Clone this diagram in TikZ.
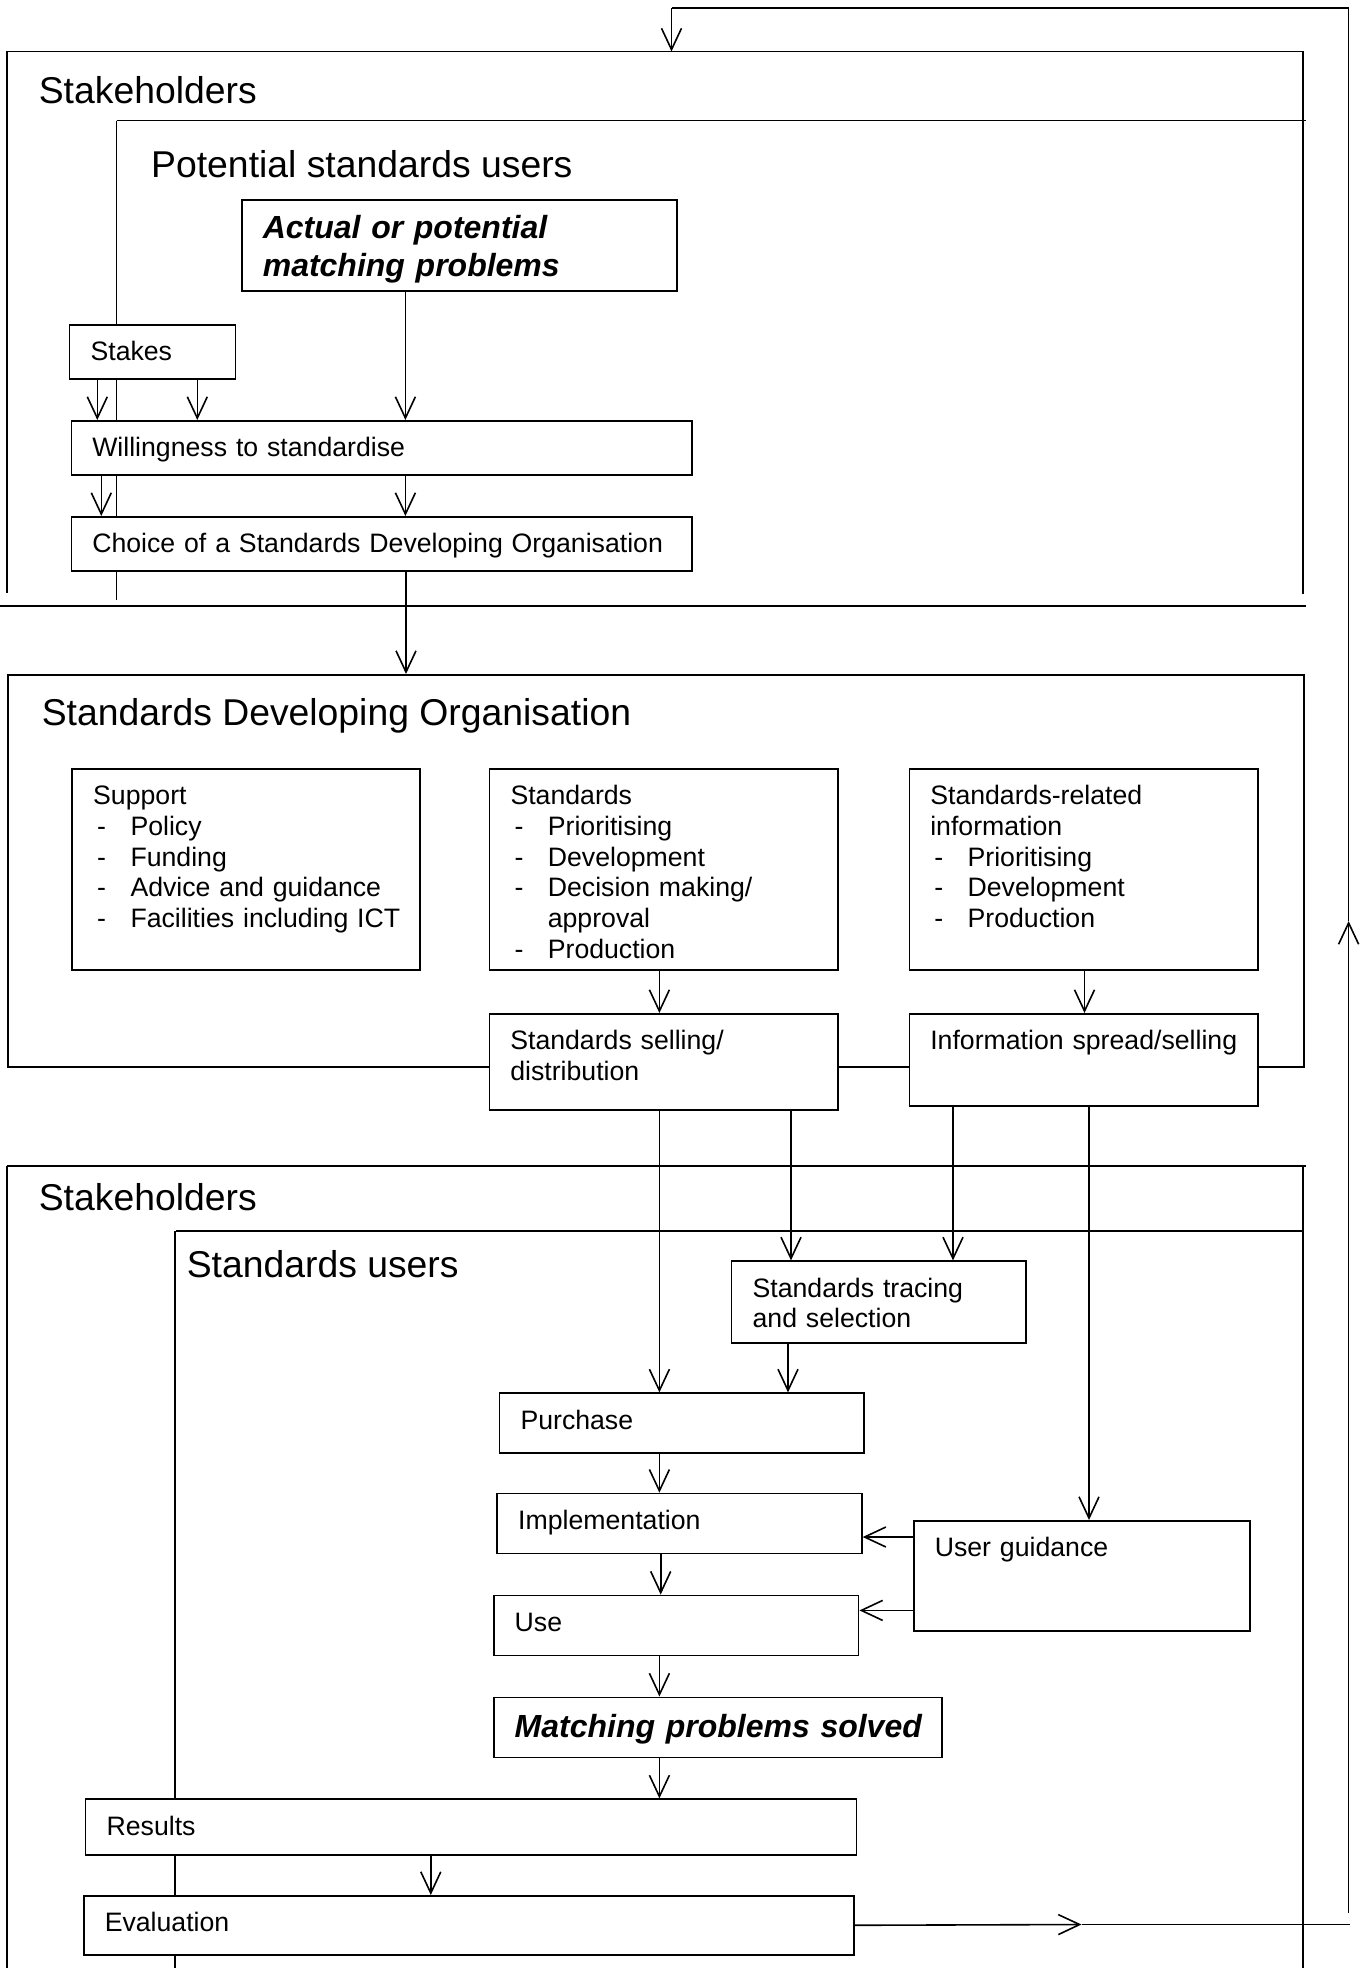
\documentclass[tikz,border=0pt]{standalone}
\usepackage{fontspec}
\setmainfont{Liberation Sans}
\usetikzlibrary{arrows.meta}

\newcommand\boxfont{\fontsize{10}{11.5}\selectfont}
\newcommand\headfont{\fontsize{14}{16.8}\selectfont}
\newcommand\keyfont{\fontsize{12}{14}\selectfont\bfseries\itshape}
\newcommand\dashitem[1]{\mbox{\hspace*{1.5pt}\makebox[12.5pt][l]{-}#1}}

\begin{document}
\begin{tikzpicture}[x=0.375pt, y=-0.375pt, line width=0.6pt,
    box/.style={draw, fill=white, anchor=north west, align=left,
        inner xsep=7.875pt, inner ysep=0pt, text height=13.5pt, font=\boxfont},
    keybox/.style={box, font=\keyfont},
    head/.style={anchor=base west, inner sep=0pt, font=\headfont},
    arr/.style={-{Straight Barb[length=8pt,width=7.5pt]}}]

    \useasboundingbox (0,0) rectangle (1366,1968);

    % stakeholders (top) and potential users
    \draw (6.7,51.5) -- (1304,51.5);
    \draw (6.7,51.5) -- (6.7,593);
    \draw (1303,51.5) -- (1303,594);
    \draw (0,606) -- (1306,606);
    \draw (116.5,120.6) -- (1306,120.6);
    \draw (116.5,120.6) -- (116.5,600);
    \node[head] (stakeT) at (38,103.6) {Stakeholders};
    \node[head] (potT) at (150.4,178) {Potential standards users};

    \node[keybox, text width=147.4pt, text height=14.6pt, text depth=19.5pt]
        (problems) at (241,199) {Actual or potential\\matching problems};
    \node[box, text width=46.5pt, text depth=6.75pt] (stakes) at (68.75,324) {Stakes};
    \node[box, text width=217.1pt, text depth=6.75pt] (will) at (70.5,420)
        {Willingness to standardise};
    \node[box, text width=217.1pt, text depth=6.75pt] (choice) at (70.5,516)
        {\mbox{Choice of a Standards Developing Organisation}};

    % standards developing organisation
    \node[draw, anchor=north west, inner sep=0pt, minimum width=486pt,
        minimum height=147pt] (sdo) at (7,674) {};
    \node[head] (sdoT) at (41,725.5) {Standards Developing Organisation};

    \node[box, text width=114.6pt, text depth=61.9pt] (support) at (71.4,768)
        {Support\\ \dashitem{Policy}\\ \dashitem{Funding}\\
         \dashitem{Advice and guidance}\\ \dashitem{Facilities including ICT}};
    \node[box, text width=114.9pt, text depth=61.9pt] (stds) at (488.7,768)
        {Standards\\ \dashitem{Prioritising}\\ \dashitem{Development}\\
         \dashitem{Decision making/}\\ \hspace*{14pt}approval\\ \dashitem{Production}};
    \node[box, text width=115pt, text depth=61.9pt] (info) at (908.5,768)
        {Standards-related\\ information\\ \dashitem{Prioritising}\\
         \dashitem{Development}\\ \dashitem{Production}};
    \node[box, text width=115pt, text depth=22.5pt] (selling) at (488.5,1013)
        {Standards selling/\\ distribution};
    \node[box, text width=115pt, text depth=21pt] (spread) at (908.5,1013)
        {\mbox{Information spread/selling}};

    % stakeholders (bottom) and standards users
    \draw (6.7,1166) -- (1306,1166);
    \draw (6.7,1166) -- (6.7,1968);
    \draw (1303,1166) -- (1303,1968);
    \draw (176,1231) -- (1303,1231);
    \draw (175,1231) -- (175,1968);
    \node[head] (stake2T) at (38,1210) {Stakeholders};
    \node[head] (usersT) at (186,1277) {Standards users};

    \node[box, text width=94.6pt, text depth=17.25pt] (tracing) at (730.8,1260.4)
        {Standards tracing\\ and selection};
    \node[box, text width=120.9pt, text depth=9pt] (purchase) at (498.7,1392.4) {Purchase};
    \node[box, text width=121pt, text depth=9pt] (impl) at (496.4,1492.7) {Implementation};
    \node[box, text width=121.1pt, text depth=9pt] (use) at (492.9,1594.6) {Use};
    \node[keybox, text width=152.4pt, text height=15pt, text depth=7.5pt]
        (solved) at (492.9,1696.5) {\mbox{Matching problems solved}};
    \node[box, text width=273.3pt, text depth=7.5pt] (results) at (84.8,1798.4) {Results};
    \node[box, text width=273.1pt, text depth=8.6pt] (eval) at (83,1895) {Evaluation};
    \node[box, text width=110.4pt, text depth=27.9pt] (guide) at (913,1520) {User guidance};

    % flows
    \draw[arr] (stakes.south -| 97.3,0) -- (will.north -| 97.3,0);
    \draw[arr] (stakes.south -| 197.3,0) -- (will.north -| 197.3,0);
    \draw[arr] (problems.south -| 405.4,0) -- (will.north -| 405.4,0);
    \draw[arr] (will.south -| 101.3,0) -- (choice.north -| 101.3,0);
    \draw[arr] (will.south -| 405.4,0) -- (choice.north -| 405.4,0);
    \draw[arr] (choice.south -| 406,0) -- (sdo.north -| 406,0);

    \draw[arr] (stds.south -| 659.4,0) -- (selling.north -| 659.4,0);
    \draw[arr] (info.south -| 1084.5,0) -- (spread.north -| 1084.5,0);

    \draw[arr] (selling.south -| 659.4,0) -- (purchase.north -| 659.4,0);
    \draw[arr] (selling.south -| 791,0) -- (tracing.north -| 791,0);
    \draw[arr] (spread.south -| 953,0) -- (tracing.north -| 953,0);
    \draw[arr] (spread.south -| 1089,0) -- (guide.north -| 1089,0);
    \draw[arr] (tracing.south -| 788,0) -- (purchase.north -| 788,0);
    \draw[arr] (purchase.south -| 659.4,0) -- (impl.north -| 659.4,0);
    \draw[arr] (impl.south -| 660.7,0) -- (use.north -| 660.7,0);
    \draw[arr] (use.south -| 659.4,0) -- (solved.north -| 659.4,0);
    \draw[arr] (solved.south -| 659.4,0) -- (results.north -| 659.4,0);
    \draw[arr] (results.south -| 430.8,0) -- (eval.north -| 430.8,0);
    \draw[arr] (guide.west |- 0,1537) -- (impl.east |- 0,1537);
    \draw[arr] (guide.west |- 0,1610.4) -- (use.east |- 0,1610.4);

    % feedback loop
    \coordinate (fbA) at (1081.5,1924.5);
    \coordinate (fbB) at (1350,1924.5);
    \coordinate (fbC) at (1348.6,1913);
    \coordinate (fbD) at (1348.6,921);
    \coordinate (fbE) at (1348.6,8);
    \coordinate (fbF) at (671.5,8);
    \coordinate (stakeIn) at (671.5,51.5);
    \draw[arr] (eval.east) -- (fbA);
    \draw (fbA) -- (fbB);
    \draw[arr] (fbC) -- (fbD);
    \draw (fbD) -- (fbE) -- (fbF);
    \draw[arr] (fbF) -- (stakeIn);

\end{tikzpicture}
\end{document}
